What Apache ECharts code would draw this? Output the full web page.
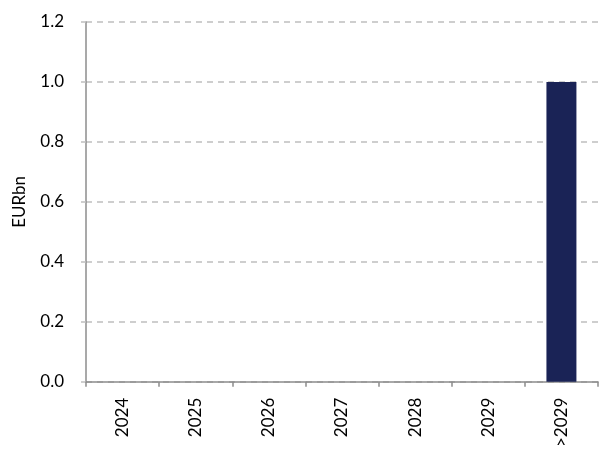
<!DOCTYPE html>
<html><head><meta charset="utf-8">
<script src="https://cdn.jsdelivr.net/npm/echarts@6/dist/echarts.min.js"></script>
<style>html,body{margin:0;padding:0;background:#fff}#c{width:606px;height:450px}</style>
</head><body><div id="c"></div>
<script>
var categories = ['2024','2025','2026','2027','2028','2029','>2029'];
var values = [0, 0, 0, 0, 0, 0, 1.0];
var yTicks = {min: 0, max: 1.2, interval: 0.2};
var yName = 'EURbn';

var chart = echarts.init(document.getElementById('c'));
chart.setOption({
  animation: false,
  grid: {left: 86, right: 8, top: 22, bottom: 67},
  xAxis: {
    type: 'category', data: categories,
    axisLine: {lineStyle: {color: '#8c8c8c', width: 1.5}},
    axisTick: {show: true, alignWithLabel: false, length: 5, lineStyle: {color: '#8c8c8c', width: 1.5}},
    axisLabel: {rotate: 90, color: '#000', fontFamily: 'Lato', fontSize: 17, margin: 16}
  },
  yAxis: {
    type: 'value', min: yTicks.min, max: yTicks.max, interval: yTicks.interval,
    name: yName, nameLocation: 'middle', nameRotate: 90, nameGap: 58,
    nameTextStyle: {color: '#000', fontFamily: 'Lato', fontSize: 17},
    axisLine: {show: true, lineStyle: {color: '#8c8c8c', width: 1.5}},
    axisTick: {show: true, length: 5, lineStyle: {color: '#bfbfbf', width: 1.5}},
    axisLabel: {color: '#000', fontFamily: 'Lato', fontSize: 17, margin: 22,
      formatter: function (v) { return v.toFixed(1); }},
    splitLine: {show: true, lineStyle: {color: '#bfbfbf', type: [6, 5], width: 1.5}}
  },
  series: [{
    type: 'bar', data: values, barWidth: '41%',
    itemStyle: {color: '#1a2356'}
  }]
});
</script></body></html>
